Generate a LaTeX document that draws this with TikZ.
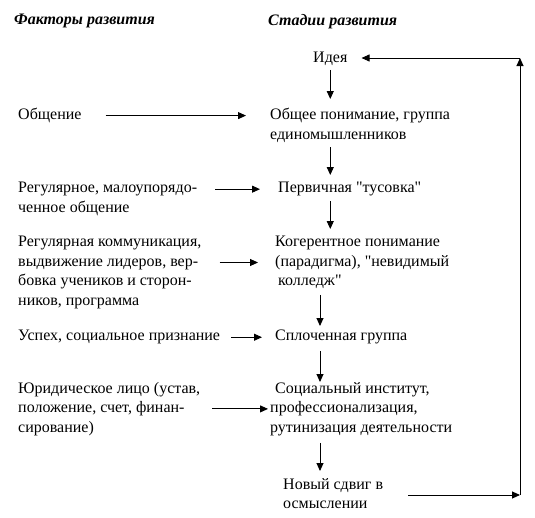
\documentclass[tikz,border=0pt]{standalone}
\usepackage{fontspec}
\setmainfont{Liberation Serif}[Ligatures=TeXOff]
\usetikzlibrary{arrows.meta}
\begin{document}
\begin{tikzpicture}[x=1pt,y=-1pt,
  txt/.style={anchor=north west,inner sep=0pt,align=left,font=\fontsize{16}{19.5}\selectfont},
  head/.style={anchor=north west,inner sep=0pt,font=\fontsize{16}{19.5}\selectfont\bfseries\itshape},
  arr/.style={-{Triangle[length=8pt,width=7pt]},line width=0.9pt},
  ln/.style={line width=0.9pt}]
\useasboundingbox (0,0) rectangle (535,517);
\fill[white] (0,0) rectangle (535,517);
\node[head] (h1) at (14,14) {Факторы развития};
\node[head] (h2) at (268,14) {Стадии развития};
\node[txt] (s0) at (313,52) {Идея};
\node[txt] (f1) at (18,108) {Общение};
\node[txt] (s1) at (270,108) {Общее понимание, группа\\единомышленников};
\node[txt] (f2) at (18,182) {Регулярное, малоупорядо-\\ченное общение};
\node[txt] (s2) at (278,182) {Первичная "тусовка"};
\node[txt] (f3) at (18,236) {Регулярная коммуникация,\\выдвижение лидеров, вер-\\бовка учеников и сторон-\\ников, программа};
\node[txt] (s3) at (275,236) {Когерентное понимание\\(парадигма), "невидимый\\\hspace{3pt}колледж"};
\node[txt] (f4) at (18,330) {Успех, социальное признание};
\node[txt] (s4) at (275,330) {Сплоченная группа};
\node[txt] (f5) at (18,382) {Юридическое лицо (устав,\\положение, счет, финан-\\сирование)};
\node[txt] (s5) at (270,382) {\hspace{5pt}Социальный институт,\\профессионализация,\\рутинизация деятельности};
\node[txt] (s6) at (283,478) {Новый сдвиг в\\осмыслении};
\coordinate (spine) at (320,0);
\coordinate (c1) at (520,495);
\coordinate (c2) at (520,58);
% horizontal factor arrows
\draw[arr,shorten <=24pt,shorten >=24pt] (f1.east) -- (f1.east -| s1.west);
\draw[arr,shorten <=18pt,shorten >=18pt] (f2.east |- s2.west) -- (s2.west);
\draw[arr,shorten <=18pt,shorten >=17pt] (f3.east |- s3.west) -- (s3.west);
\draw[arr,shorten <=11pt,shorten >=13pt] (f4.east |- s4.west) -- (s4.west);
\draw[arr,shorten <=12pt,shorten >=2pt] (f5.east |- s5.west) -- (s5.west);
% vertical stage arrows
\draw[arr,shorten <=4pt,shorten >=9pt] (s0.south) -- (s0.south |- s1.north);
\draw[arr,shorten <=5pt,shorten >=7pt] (s0.south |- s1.south) -- (s0.south |- s2.north);
\draw[arr,shorten <=5pt,shorten >=7pt] (s0.south |- s2.south) -- (s0.south |- s3.north);
\draw[arr,shorten <=6pt,shorten >=4pt] (spine |- s3.south) -- (spine |- s4.north);
\draw[arr,shorten <=7pt,shorten >=0pt] (spine |- s4.south) -- (spine |- s5.north);
\draw[arr,shorten <=7pt,shorten >=7pt] (spine |- s5.south) -- (spine |- s6.north);
% feedback loop
\draw[arr,shorten <=25pt] (s6.east |- c1) -- (c1);
\draw[arr] (c1) -- (c2);
\draw[arr,shorten >=14pt] (c2) -- (c2 -| s0.east);
\end{tikzpicture}
\end{document}
